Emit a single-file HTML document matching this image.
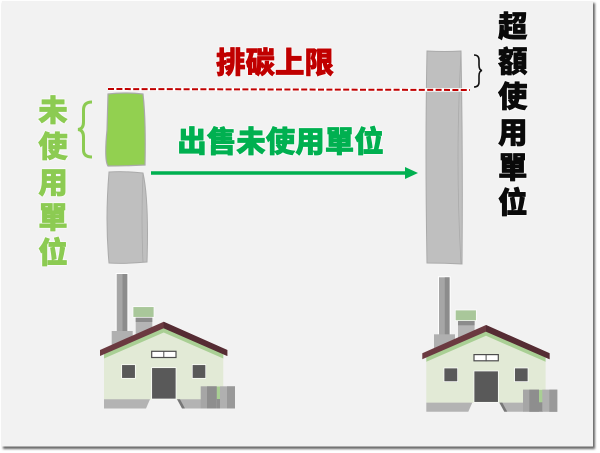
<!DOCTYPE html>
<html><head><meta charset="utf-8"><style>
html,body{margin:0;padding:0;background:#fff;width:600px;height:453px;overflow:hidden}
svg{display:block}
text{font-family:"Liberation Sans","Noto Sans CJK TC",sans-serif;font-weight:900;font-size:29.500px;text-anchor:middle;fill:currentColor;stroke:currentColor;stroke-width:.7px;stroke-linejoin:round}
.t{filter:drop-shadow(0 0 .8px #fff) drop-shadow(0 0 .6px #fff)}
</style></head><body>
<svg width="600" height="453" viewBox="0 0 600 453" xmlns="http://www.w3.org/2000/svg">
<defs>
<filter id="b" x="-2%" y="-2%" width="104%" height="104%"><feGaussianBlur stdDeviation="1"/></filter>
<g id="house">
<rect x="115.7" y="273" width="12.6" height="60" fill="#fff"/>
<rect x="116.7" y="274" width="10.6" height="58" fill="#a6a6a6"/>
<rect x="122.5" y="274" width="4.8" height="58" fill="#8c8c8c"/>
<rect x="111.7" y="331" width="21" height="16" fill="#b0b0b0"/>
<rect x="135.7" y="317" width="16.6" height="18" fill="#b5b5b5"/>
<rect x="135.7" y="317" width="16.6" height="5" fill="#8c8c8c"/>
<rect x="133" y="306.7" width="21" height="10.6" fill="#a9c79a" stroke="#fff" stroke-width=".7"/>
<polygon points="104,358 163.7,330 223.3,358 223.3,399.5 104,399.5" fill="#e2ead6"/>
<polygon points="104,358.5 104,352 163.7,326 223.3,352 223.3,358.5 163.7,332.5" fill="#a9cf94"/>
<polygon points="100,350 163.7,321.7 227.3,350 227.3,356 163.7,328.3 100,356" fill="#6b3a40"/>
<polygon points="163.7,321.7 227.3,350 227.3,356 163.7,328.3" fill="#552c33"/>
<rect x="151.7" y="351.3" width="24.3" height="6.2" fill="#fff" stroke="#4d4d4d" stroke-width="1.2"/>
<line x1="163.8" y1="351" x2="163.8" y2="358" stroke="#4d4d4d" stroke-width="1"/>
<rect x="121.7" y="364.7" width="13.6" height="13.6" fill="#595959" stroke="#fff" stroke-width=".7"/>
<rect x="192.3" y="364.7" width="13.4" height="13.6" fill="#595959" stroke="#fff" stroke-width=".7"/>
<rect x="151.7" y="367.7" width="24.3" height="31.3" fill="#595959" stroke="#fff" stroke-width=".7"/>
<polygon points="104,399.3 150,399.3 146,408.5 104,408.5" fill="#b3b3b3"/>
<polygon points="177,399.3 201,399.3 201,408.5 185,408.5" fill="#b3b3b3"/>
<polygon points="177,399.3 180,399.3 185,408.5 182,408.5" fill="#777"/>
<rect x="216" y="386.5" width="4.5" height="13" fill="#a9cf94"/>
<rect x="200.7" y="386.3" width="16" height="22.2" fill="#a6a6a6"/>
<rect x="207" y="386.3" width="9.7" height="22.2" fill="#8e8e8e"/>
<rect x="216.7" y="399" width="4" height="9.5" fill="#8e8e8e"/>
<rect x="220" y="386.3" width="15" height="22.2" fill="#b0b0b0"/>
<rect x="227" y="386.3" width="8" height="22.2" fill="#999"/>
</g>
</defs>
<rect x="3" y="3" width="592" height="446" fill="#666" filter="url(#b)"/>
<rect x="2" y="1" width="591" height="445.5" fill="#f2f2f2"/>

<!-- Bars -->
<path d="M108 94 Q124 92 143 94 Q146 120 145 165 Q125 166 108 166 Q104 160 107 130 Z" fill="#92d050" stroke="#aaa" stroke-width="1.200"/>
<path d="M109 172 Q125 171 143 173 Q149 200 147 262 Q125 264 109 263 Q105 220 109 172Z" fill="#bfbfbf" stroke="#aaa" stroke-width="1"/>
<path d="M143 173 Q141 220 143 262" fill="none" stroke="#aaa" stroke-width=".8"/>
<path d="M427 51 Q445 52 461 51 Q463 160 462 264 Q445 263 427 263 Q425 150 427 51Z" fill="#bfbfbf" stroke="#aaa" stroke-width="1"/>
<path d="M461 51 Q455 160 461 264" fill="none" stroke="#aaa" stroke-width=".8"/>

<!-- Lines -->
<line x1="108" y1="89" x2="470" y2="90" stroke="#fff" stroke-width="3.4"/>
<line x1="108" y1="89" x2="470" y2="90" stroke="#c00000" stroke-width="2" stroke-dasharray="6 2.4"/>
<line x1="151" y1="173" x2="408" y2="173" stroke="#00b050" stroke-width="3.4"/>
<polygon points="405,167 418,173 405,179" fill="#00b050"/>

<!-- Braces -->
<path d="M92 102 Q83.500 102 83.500 110 L83.500 122 Q83.500 129 78 129.500 Q83.500 130 83.500 137 L83.500 150 Q83.500 157 92 157" fill="none" stroke="#8ccb52" stroke-width="3"/>
<path d="M474 55 Q479 55 479 60 L479 65 Q479 70 482 70.500 Q479 71 479 76 L479 82 Q479 87 474 87" fill="none" stroke="#111" stroke-width="1.600"/>

<!-- Text -->
<g class="t">
<text x="275" y="73" color="#c00000">排碳上限</text>
<text x="280.500" y="152" color="#00b050">出售未使用單位</text>
<g color="#8ccb52">
<text x="53" y="121">未</text>
<text x="53" y="157">使</text>
<text x="53" y="193">用</text>
<text x="53" y="228">單</text>
<text x="53" y="263">位</text>
</g>
<g color="#0a0a0a">
<text x="512.700" y="37">超</text>
<text x="512.700" y="72">額</text>
<text x="512.700" y="107">使</text>
<text x="512.700" y="143">用</text>
<text x="512.700" y="178">單</text>
<text x="512.700" y="213">位</text>
</g>
</g>

<use href="#house"/>
<use href="#house" x="322.300" y="3.300"/>
</svg>
</body></html>
